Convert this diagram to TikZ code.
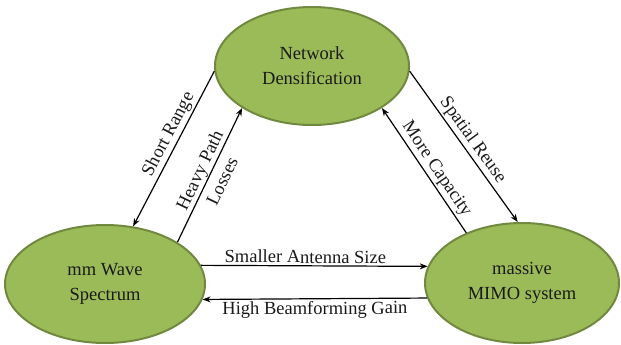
\documentclass[tikz,border=0pt]{standalone}
\usepackage{fontspec}
\setmainfont{Liberation Serif}
\usepackage{xcolor}
\usepackage{tikz}
\usetikzlibrary{shapes.geometric,arrows.meta}
\definecolor{egreen}{HTML}{9BBB59}
\definecolor{egreend}{HTML}{71893F}
\definecolor{etext}{HTML}{1A1A1A}

\begin{document}
\begin{tikzpicture}[x=1pt, y=-1pt, >=Stealth, font=\fontsize{18.5}{25}\selectfont,
  ell/.style={ellipse, draw=egreend, line width=2pt, fill=egreen, text=etext,
              align=center, inner sep=0pt},
  arr/.style={-{Stealth[length=8pt,width=6pt]}, line width=1.2pt},
  lbl/.style={sloped, inner sep=2pt, align=center, text=etext}]
  \useasboundingbox (0,0) rectangle (621,345);
  % --- the three ellipses
  \node[ell, minimum width=194pt, minimum height=118pt] (netdens) at (312,66)
       {Network\\Densification};
  \node[ell, minimum width=200pt, minimum height=118pt] (mmwave)  at (105,284)
       {mm Wave\\Spectrum};
  \node[ell, minimum width=194pt, minimum height=120pt] (mimo)    at (522,283)
       {massive\\MIMO system};
  % --- left side
  \draw[arr] (netdens.183) -- node[lbl, above, pos=0.44] (lshort) {Short Range} (mmwave.64);
  \draw[arr] (mmwave.30) -- node[lbl, midway, yshift=-1pt] (lheavy) {Heavy Path\\Losses} (netdens.211);
  % --- right side
  \draw[arr] (netdens.357) -- node[lbl, above, pos=0.5] (lspatial) {Spatial Reuse} (mimo.94);
  \draw[arr] (mimo.138) -- node[lbl, above, pos=0.46] (lmore) {More Capacity} (netdens.329);
  % --- bottom
  \draw[arr] (mmwave.11) -- node[lbl, above, pos=0.46] (lsmall) {Smaller Antenna Size} (mimo.170);
  \draw[arr] (mimo.189) -- node[lbl, below] (lhigh) {High Beamforming Gain} (mmwave.351);
\end{tikzpicture}
\end{document}
